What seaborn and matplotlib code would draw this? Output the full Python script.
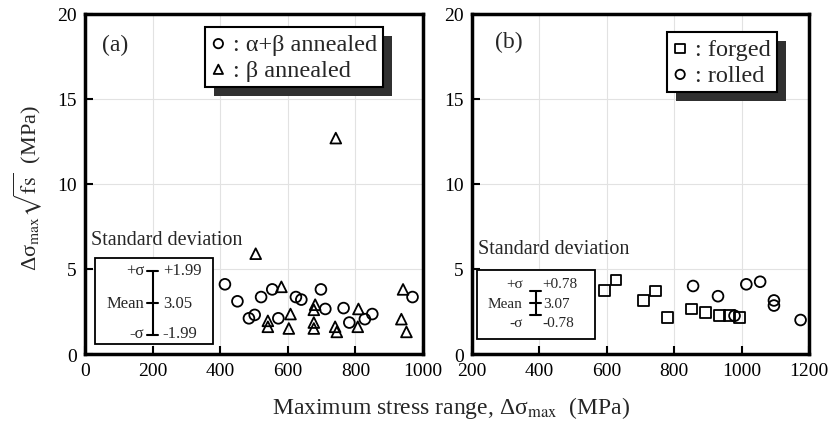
import matplotlib
matplotlib.use("Agg")
import matplotlib.pyplot as plt
import seaborn as sns
import pandas as pd
from matplotlib.patches import Rectangle

# panel (a): alpha+beta annealed (circles) and beta annealed (triangles)
a_ab_x = [414, 451, 485, 502, 521, 554, 572, 624, 640, 698, 711, 765, 782, 828, 850, 969]
a_ab_y = [4.1, 3.1, 2.1, 2.3, 3.35, 3.8, 2.1, 3.35, 3.2, 3.8, 2.65, 2.7, 1.85, 2.05, 2.35, 3.35]
a_b_x = [505, 581, 541, 541, 608, 603, 681, 677, 677, 677, 740, 745, 809, 807, 941, 936, 951, 742]
a_b_y = [5.9, 3.95, 1.95, 1.6, 2.35, 1.5, 2.9, 2.6, 1.85, 1.5, 1.6, 1.3, 2.65, 1.6, 3.8, 2.05, 1.3, 12.7]

# panel (b): forged (squares) and rolled (circles)
b_forged_x = [594, 627, 708, 745, 780, 851, 892, 935, 964, 994]
b_forged_y = [3.75, 4.35, 3.15, 3.7, 2.15, 2.65, 2.45, 2.25, 2.25, 2.15]
b_rolled_x = [856, 930, 979, 1014, 1055, 1096, 1096, 1175]
b_rolled_y = [4.0, 3.4, 2.25, 4.1, 4.25, 3.15, 2.85, 2.0]

a_ticks = [0, 200, 400, 600, 800, 1000]
b_ticks = [200, 400, 600, 800, 1000, 1200]
y_ticks = [0, 5, 10, 15, 20]

# standard deviation keys
a_sd = ["+1.99", "3.05", "-1.99"]
b_sd = ["+0.78", "3.07", "-0.78"]

sns.set_theme(style="white")
plt.rcParams["font.family"] = ["Liberation Serif", "DejaVu Serif"]
plt.rcParams["mathtext.fontset"] = "stix"

fig = plt.figure(figsize=(8.33, 4.27), dpi=100)
ax1 = fig.add_axes([85 / 833, 1 - 355 / 427, 338 / 833, 340 / 427])
ax2 = fig.add_axes([472 / 833, 1 - 355 / 427, 337 / 833, 340 / 427])

mk = dict(facecolor="none", edgecolor="black", linewidth=1.3, s=60)

df_a1 = pd.DataFrame({"x": a_ab_x, "y": a_ab_y})
df_a2 = pd.DataFrame({"x": a_b_x, "y": a_b_y})
sns.scatterplot(data=df_a1, x="x", y="y", marker="o", ax=ax1, label=": α+β annealed", zorder=3, **mk)
sns.scatterplot(data=df_a2, x="x", y="y", marker="^", ax=ax1, label=": β annealed", zorder=3, **mk)

df_b1 = pd.DataFrame({"x": b_forged_x, "y": b_forged_y})
df_b2 = pd.DataFrame({"x": b_rolled_x, "y": b_rolled_y})
sns.scatterplot(data=df_b1, x="x", y="y", marker="s", ax=ax2, label=": forged", zorder=3, **mk)
sns.scatterplot(data=df_b2, x="x", y="y", marker="o", ax=ax2, label=": rolled", zorder=3, **mk)

for ax, xt in [(ax1, a_ticks), (ax2, b_ticks)]:
    ax.set_xlim(xt[0], xt[-1])
    ax.set_ylim(0, 20)
    ax.set_xticks(xt)
    ax.set_yticks(y_ticks)
    ax.set_xlabel("")
    ax.set_ylabel("")
    ax.grid(True, color="#e2e2e2", linewidth=0.8)
    ax.set_axisbelow(True)
    for sp in ax.spines.values():
        sp.set_color("black")
        sp.set_linewidth(2.5)
    ax.tick_params(direction="in", length=6, width=1.5, colors="black",
                   labelsize=14, pad=6, bottom=True, left=True)

ax1.set_ylabel(r"Δσ$_{\rm max}\sqrt{\rm fs}$  (MPa)", fontsize=16)
ax1.yaxis.set_label_coords(-0.12, 0.49)
fig.text(451 / 833, 1 - 408 / 427, r"Maximum stress range, Δσ$_{\rm max}$  (MPa)",
         ha="center", va="center", fontsize=17)

ax1.text(0.09, 0.91, "(a)", transform=ax1.transAxes, ha="center", va="center", fontsize=17)
ax2.text(0.11, 0.92, "(b)", transform=ax2.transAxes, ha="center", va="center", fontsize=17)

legs = []
for ax, anchor in [(ax1, (0.355, 0.962)), (ax2, (0.578, 0.947))]:
    leg = ax.legend(loc="upper left", bbox_to_anchor=anchor, fontsize=17.5, frameon=True,
                    fancybox=False, framealpha=1, edgecolor="black", borderpad=0.25,
                    labelspacing=0.15, handlelength=0.6, handletextpad=0.3, borderaxespad=0)
    leg.get_frame().set_linewidth(1.5)
    for h in leg.legend_handles:
        h.set_sizes([45])
    legs.append((ax, leg))

fig.canvas.draw()
for ax, leg in legs:
    bb = leg.get_window_extent().transformed(ax.transAxes.inverted())
    dx, dy = 9 / 338, 9 / 340
    ax.add_patch(Rectangle((bb.x0 + dx, bb.y0 - dy), bb.width, bb.height, transform=ax.transAxes,
                           facecolor="#303030", edgecolor="none", zorder=4.5, clip_on=False))


def sd_key(ax, box, title_xy, bar_x, bar_ys, txt_ys, lab_x, val_x, vals, fs):
    ax.add_patch(Rectangle((box[0], box[1]), box[2] - box[0], box[3] - box[1], transform=ax.transAxes,
                           facecolor="white", edgecolor="black", linewidth=1.3, zorder=4))
    ax.text(title_xy[0], title_xy[1], "Standard deviation", transform=ax.transAxes,
            ha="left", va="center", fontsize=14.5, zorder=5)
    top, mid, bot = bar_ys
    hw = 0.016
    kw = dict(transform=ax.transAxes, color="black", linewidth=1.5, zorder=5)
    ax.plot([bar_x, bar_x], [bot, top], **kw)
    for yy in (top, mid, bot):
        ax.plot([bar_x - hw, bar_x + hw], [yy, yy], **kw)
    for lab, yy in zip(["+σ", "Mean", "-σ"], txt_ys):
        ax.text(lab_x, yy, lab, transform=ax.transAxes, ha="right", va="center", fontsize=fs, zorder=5)
    for v, yy in zip(vals, txt_ys):
        ax.text(val_x, yy, v, transform=ax.transAxes, ha="left", va="center", fontsize=fs, zorder=5)


sd_key(ax1, (0.030, 0.03, 0.379, 0.282), (0.018, 0.338), 0.200,
       (0.245, 0.149, 0.055), (0.248, 0.149, 0.062), 0.175, 0.23, a_sd, 12)
sd_key(ax2, (0.014, 0.044, 0.365, 0.248), (0.019, 0.309), 0.189,
       (0.186, 0.15, 0.115), (0.207, 0.15, 0.092), 0.150, 0.21, b_sd, 11)

plt.savefig("out.png", dpi=100)
plt.close()
